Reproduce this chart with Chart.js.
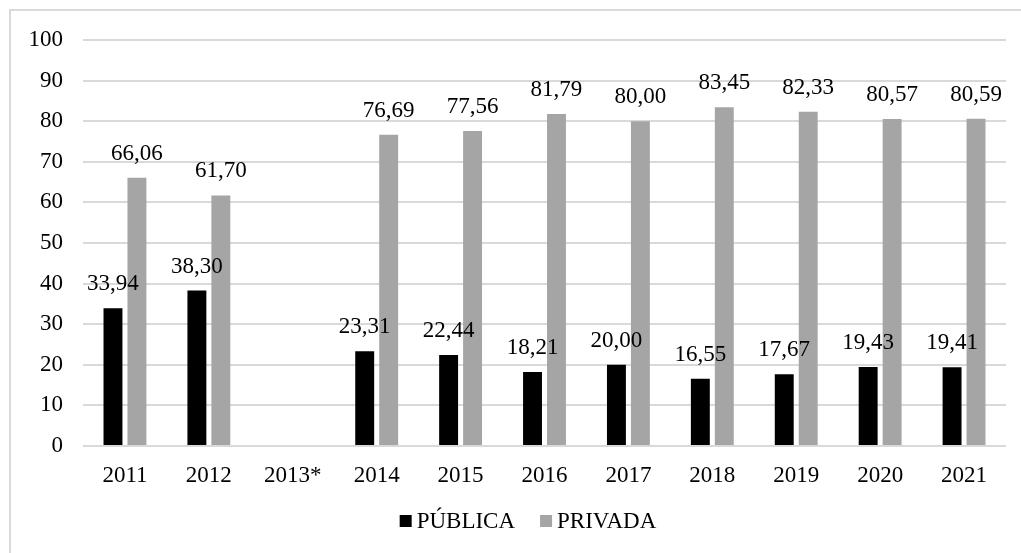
<!DOCTYPE html>
<html>
<head>
<meta charset="utf-8">
<script src="https://cdn.jsdelivr.net/npm/chart.js@4.4.0/dist/chart.umd.min.js"></script>
<style>
    body { margin: 0; background: #fff; overflow: hidden; }
    #moldura {
        position: absolute; left: 9px; top: 9px; width: 1100px; height: 600px;
        border-left: 2px solid #d9d9d9; border-top: 2px solid #d9d9d9;
    }
    #grafico { position: absolute; left: 0; top: 0; }
</style>
</head>
<body>
<div id="moldura"></div>
<canvas id="grafico" width="1021" height="553"></canvas>
<script>
// dados do grafico
const anos = ['2011', '2012', '2013*', '2014', '2015', '2016', '2017', '2018', '2019', '2020', '2021'];
const publica = [33.94, 38.30, null, 23.31, 22.44, 18.21, 20.00, 16.55, 17.67, 19.43, 19.41];
const privada = [66.06, 61.70, null, 76.69, 77.56, 81.79, 80.00, 83.45, 82.33, 80.57, 80.59];
const ticksY = [0, 10, 20, 30, 40, 50, 60, 70, 80, 90, 100];

const fonte = "'Liberation Serif', 'Times New Roman', serif";

// rotulos em cima das barras
const rotulos = {
    id: 'rotulos',
    afterDatasetsDraw(chart) {
        const ctx = chart.ctx;
        ctx.save();
        ctx.font = '23px ' + fonte;
        ctx.fillStyle = '#000';
        ctx.textAlign = 'center';
        ctx.textBaseline = 'alphabetic';
        chart.data.datasets.forEach(function (ds, i) {
            chart.getDatasetMeta(i).data.forEach(function (bar, j) {
                const v = ds.data[j];
                if (v === null) return;
                ctx.fillText(v.toFixed(2).replace('.', ','), bar.x, bar.y - 18);
            });
        });
        ctx.restore();
    }
};

// legenda desenhada na mao (quadrado colado no texto)
const legenda = {
    id: 'legenda',
    afterDraw(chart) {
        const ctx = chart.ctx;
        const itens = chart.data.datasets;
        const caixa = 12, espaco = 5, entre = 25;
        ctx.save();
        ctx.font = '23px ' + fonte;
        ctx.textBaseline = 'middle';
        ctx.textAlign = 'left';
        let total = 0;
        itens.forEach(function (ds, i) {
            total += caixa + espaco + ctx.measureText(ds.label).width;
            if (i < itens.length - 1) total += entre;
        });
        let x = 528 - total / 2;
        const y = 521;
        itens.forEach(function (ds) {
            ctx.fillStyle = ds.backgroundColor;
            ctx.fillRect(x, y - caixa / 2, caixa, caixa);
            x += caixa + espaco;
            ctx.fillStyle = '#000';
            ctx.fillText(ds.label, x, y + 1);
            x += ctx.measureText(ds.label).width + entre;
        });
        ctx.restore();
    }
};

const config = {
    type: 'bar',
    data: {
        labels: anos,
        datasets: [{
            label: 'PÚBLICA',
            data: publica,
            backgroundColor: '#000000',
            categoryPercentage: 0.571,
            barPercentage: 0.79
        }, {
            label: 'PRIVADA',
            data: privada,
            backgroundColor: '#a5a5a5',
            categoryPercentage: 0.571,
            barPercentage: 0.79
        }]
    },
    options: {
        responsive: false,
        animation: false,
        layout: {
            padding: { top: 40, right: 15, bottom: 53, left: 0 }
        },
        scales: {
            x: {
                grid: { display: false, drawTicks: false },
                border: { display: false },
                ticks: {
                    color: '#000',
                    padding: 16,
                    font: { size: 23, family: fonte }
                },
                afterFit: function (scale) { scale.height = 54; }
            },
            y: {
                min: 0,
                max: 100,
                afterBuildTicks: function (scale) {
                    scale.ticks = ticksY.map(v => ({ value: v }));
                },
                grid: { color: '#d9d9d9', lineWidth: 2, drawTicks: false },
                border: { display: false },
                ticks: {
                    color: '#000',
                    padding: 20,
                    font: { size: 23, family: fonte }
                },
                afterFit: function (scale) { scale.width = 83; }
            }
        },
        plugins: {
            legend: { display: false },
            tooltip: { enabled: false }
        }
    },
    plugins: [rotulos, legenda]
};

new Chart(document.getElementById('grafico').getContext('2d'), config);
</script>
</body>
</html>
